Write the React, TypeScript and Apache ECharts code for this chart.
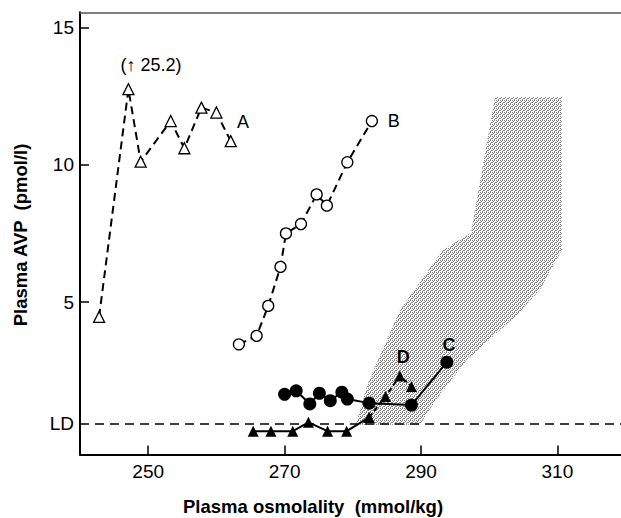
import React, { useEffect, useRef } from "react";
import * as echarts from "echarts";

// ---- data ----
const xTicks = [250, 270, 290, 310];
const yTicks = [5, 10, 15];
const LD = 0.58;

// Series A (open triangles, dashed)
const aX = [242.8, 247.1, 248.9, 253.3, 255.3, 257.8, 260.0, 262.1];
const aY = [4.46, 12.75, 10.11, 11.59, 10.6, 12.08, 11.9, 10.86];

// Series B (open circles, dashed)
const bX = [263.3, 265.9, 267.6, 269.4, 270.2, 272.4, 274.7, 276.2, 279.2, 282.8];
const bY = [3.46, 3.77, 4.86, 6.28, 7.5, 7.84, 8.92, 8.51, 10.09, 11.59];

// Series C (filled circles, solid)
const cX = [270.0, 271.7, 273.7, 275.1, 276.7, 278.4, 279.2, 282.4, 288.6, 293.8];
const cY = [1.64, 1.77, 1.29, 1.68, 1.41, 1.72, 1.47, 1.32, 1.25, 2.81];

// Series D (filled triangles) – solid low part, dashed rise
const dX = [265.4, 268.0, 271.2, 273.5, 276.3, 279.1, 282.4, 284.8, 286.9, 288.6];
const dY = [0.3, 0.3, 0.3, 0.62, 0.3, 0.3, 0.8, 1.56, 2.31, 1.93];
const dSolidEnd = 6;

// Normal range (shaded band)
const shadeX = [300.85, 310.67, 310.67, 307.45, 303.78, 296.74, 292.2, 289.85, 280.47, 282.23, 286.92, 293.23, 297.33];
const shadeY = [12.47, 12.47, 6.9, 5.45, 4.46, 2.9, 1.44, 0.53, 0.53, 2.06, 4.71, 6.9, 7.52];

// Annotations
const annText = ["(\u2191 25.2)", "A", "B", "C", "D"];
const annX = [250.4, 263.9, 286.0, 294.1, 287.4];
const annY = [13.63, 11.56, 11.59, 3.44, 3.0];
const annBold = [false, false, false, true, true];

const FONT = "'Liberation Sans', Arial, Helvetica, sans-serif";

const pairs = (xs: number[], ys: number[]) => xs.map((x, i) => [x, ys[i]]);

function makeStipple(): any {
  // small fixed dot tile to imitate the printed stipple screen
  const c = document.createElement("canvas");
  c.width = 4;
  c.height = 4;
  const ctx = c.getContext("2d");
  if (!ctx) return "#cccccc";
  ctx.fillStyle = "#ffffff";
  ctx.fillRect(0, 0, 4, 4);
  ctx.fillStyle = "#7a7a7a";
  const dots = [
    [0, 0],
    [2, 0],
    [1, 1],
    [3, 2],
    [0, 2],
    [2, 3],
  ];
  dots.forEach(([x, y]) => ctx.fillRect(x, y, 1, 1));
  return { image: c, repeat: "repeat" };
}

export default function App() {
  const ref = useRef<HTMLDivElement>(null);
  useEffect(() => {
    if (!ref.current) return;
    const chart = echarts.init(ref.current, null, { renderer: "svg" });
    const xMin = 240;
    const xMax = 319.33;
    const stipple = makeStipple();
    const option: any = {
      animation: false,
      backgroundColor: "#fff",
      grid: { left: 80, right: 0, top: 12.3, bottom: 63.5, containLabel: false },
      xAxis: [
        {
          type: "value",
          min: xMin,
          max: xMax,
          axisLine: { show: true, onZero: false, lineStyle: { color: "#000", width: 2 } },
          axisTick: {
            show: true,
            inside: true,
            length: 9,
            customValues: xTicks,
            lineStyle: { color: "#000", width: 1.5 },
          },
          axisLabel: {
            customValues: xTicks,
            color: "#000",
            fontSize: 19,
            fontFamily: FONT,
            margin: 7,
          },
          splitLine: { show: false },
        },
        {
          type: "value",
          position: "top",
          min: xMin,
          max: xMax,
          axisLine: { show: true, onZero: false, lineStyle: { color: "#555", width: 1.5 } },
          axisTick: { show: false },
          axisLabel: { show: false },
          splitLine: { show: false },
        },
      ],
      yAxis: {
        type: "value",
        min: -0.55,
        max: 15.55,
        axisLine: { show: true, onZero: false, lineStyle: { color: "#000", width: 2 } },
        axisTick: {
          show: true,
          inside: true,
          length: 9,
          customValues: yTicks,
          lineStyle: { color: "#000", width: 1.5 },
        },
        axisLabel: {
          customValues: [LD, ...yTicks],
          formatter: (v: number) => (Math.abs(v - LD) < 1e-6 ? "LD" : String(v)),
          color: "#000",
          fontSize: 19,
          fontFamily: FONT,
          margin: 6,
        },
        splitLine: { show: false },
      },
      graphic: [
        {
          type: "text",
          x: 20,
          y: 235,
          rotation: Math.PI / 2,
          style: {
            text: "Plasma AVP  (pmol/l)",
            font: `bold 18.5px ${FONT}`,
            fill: "#000",
            textAlign: "center",
            textVerticalAlign: "middle",
          },
        },
        {
          type: "text",
          x: 313,
          y: 506,
          style: {
            text: "Plasma osmolality  (mmol/kg)",
            font: `bold 18.5px ${FONT}`,
            fill: "#000",
            textAlign: "center",
            textVerticalAlign: "middle",
          },
        },
      ],
      series: [
        {
          type: "custom",
          silent: true,
          z: 1,
          renderItem: (_p: any, api: any) => {
            const pts = shadeX.map((x, i) => api.coord([x, shadeY[i]]));
            return {
              type: "polygon",
              shape: { points: pts },
              style: { fill: stipple },
            };
          },
          data: [[shadeX[0], shadeY[0]]],
          markLine: {
            silent: true,
            symbol: "none",
            label: { show: false },
            lineStyle: { color: "#000", type: [9, 6], width: 1.5 },
            data: [{ yAxis: LD }],
            z: 5,
          },
        },
        {
          name: "A",
          type: "line",
          z: 3,
          data: pairs(aX, aY),
          symbol: "triangle",
          symbolSize: 11,
          lineStyle: { color: "#000", width: 2, type: [8, 5] },
          itemStyle: { color: "#fff", borderColor: "#000", borderWidth: 1.3 },
        },
        {
          name: "B",
          type: "line",
          z: 3,
          data: pairs(bX, bY),
          symbol: "circle",
          symbolSize: 11,
          lineStyle: { color: "#000", width: 2, type: [8, 5] },
          itemStyle: { color: "#fff", borderColor: "#000", borderWidth: 1.3 },
        },
        {
          name: "D-low",
          type: "line",
          z: 3,
          data: pairs(dX.slice(0, dSolidEnd + 1), dY.slice(0, dSolidEnd + 1)),
          symbol: "triangle",
          symbolSize: 11,
          lineStyle: { color: "#000", width: 2 },
          itemStyle: { color: "#000" },
        },
        {
          name: "D-high",
          type: "line",
          z: 3,
          data: pairs(dX.slice(dSolidEnd), dY.slice(dSolidEnd)),
          symbol: "triangle",
          symbolSize: 11,
          lineStyle: { color: "#000", width: 2, type: [5, 3] },
          itemStyle: { color: "#000" },
        },
        {
          name: "C",
          type: "line",
          z: 4,
          data: pairs(cX, cY),
          symbol: "circle",
          symbolSize: 13,
          lineStyle: { color: "#000", width: 2 },
          itemStyle: { color: "#000" },
        },
        {
          type: "scatter",
          z: 6,
          silent: true,
          symbolSize: 0,
          itemStyle: { opacity: 1 },
          data: annX.map((x, i) => ({
            value: [x, annY[i]],
            label: {
              formatter: annText[i],
              fontWeight: annBold[i] ? "bold" : "normal",
            },
          })),
          label: {
            show: true,
            position: "inside",
            color: "#000",
            opacity: 1,
            fontSize: 18,
            fontFamily: FONT,
          },
        },
      ],
    };
    chart.setOption(option);
    return () => chart.dispose();
  }, []);
  return (
    <div
      ref={ref}
      style={{ position: "fixed", left: 0, top: 0, width: 621, height: 518 }}
    />
  );
}
